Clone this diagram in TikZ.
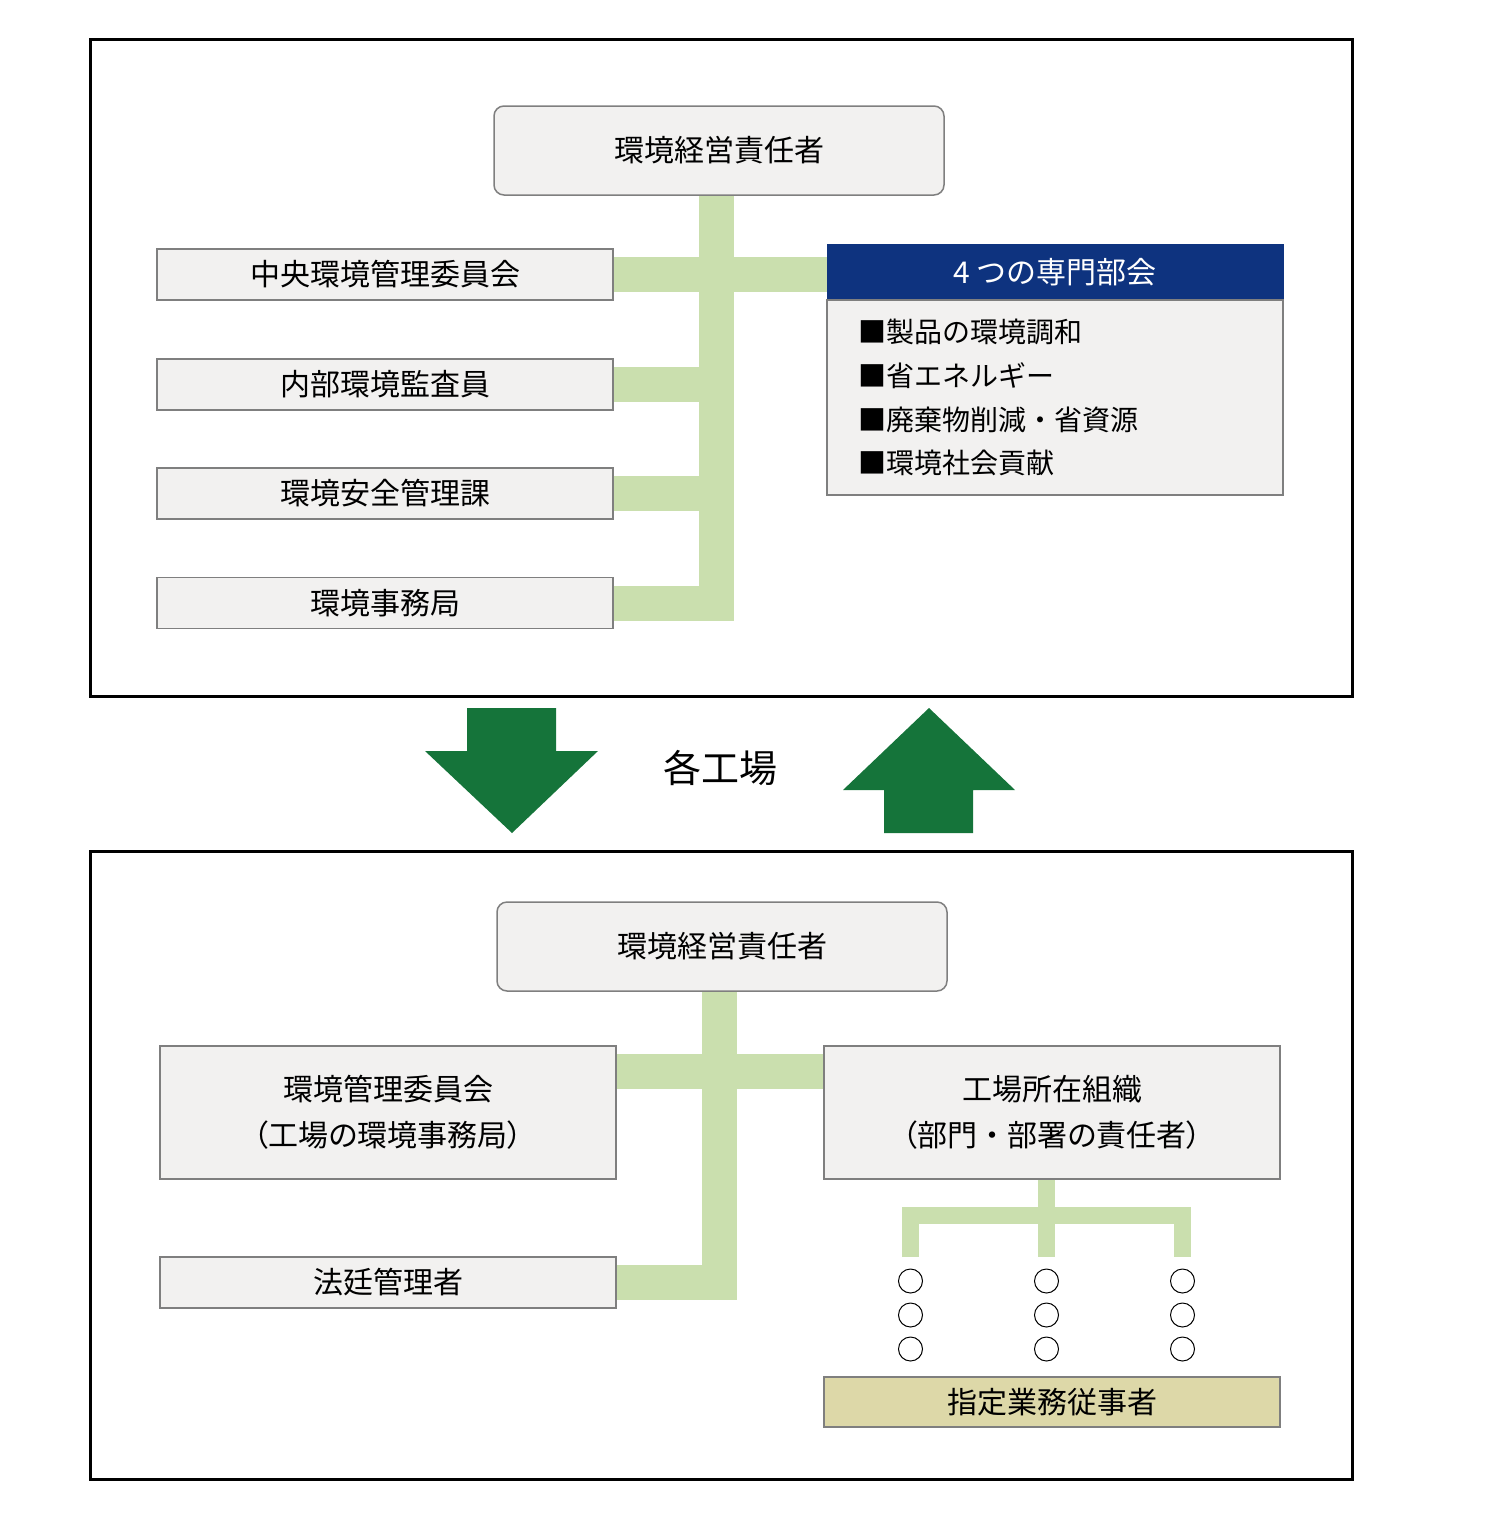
\documentclass[tikz,border=0pt]{standalone}
\usepackage{fontspec}
\usetikzlibrary{backgrounds}
\newfontfamily\jp{Noto Sans CJK JP}
\newfontfamily\jpp[RawFeature=+palt]{Noto Sans CJK JP}
\newlength\upx \setlength\upx{0.5pt}
\definecolor{boxfill}{HTML}{F2F1F0}
\definecolor{boxline}{HTML}{7F7F7F}
\definecolor{connc}{HTML}{CADFAE}
\definecolor{navy}{HTML}{0E337F}
\definecolor{darkgreen}{HTML}{15743A}
\definecolor{tanc}{HTML}{DDD8A8}
\begin{document}
\begin{tikzpicture}[x=0.5pt,y=-0.5pt,
  frame/.style={draw=black, line width=1.5pt},
  plainbox/.style={draw=boxline, line width=0.75pt, fill=boxfill, inner sep=0pt,
    font=\jp\fontsize{15pt}{23pt}\selectfont, align=center},
  headbox/.style={plainbox, rounded corners=5pt, minimum width=450\upx, minimum height=89\upx},
  sidebox/.style={plainbox, minimum width=456\upx, minimum height=51\upx},
  bigbox/.style={plainbox, minimum width=456\upx, minimum height=133\upx,
    font=\jpp\fontsize{15pt}{23pt}\selectfont},
  connline/.style={draw=connc, line width=17.5pt},
  smallconn/.style={draw=connc, line width=8.5pt},
  ring/.style={circle, draw=black, line width=0.5pt, minimum size=24\upx, inner sep=0pt},
  bigarrow/.style={fill=darkgreen}]
\useasboundingbox (0,0) rectangle (1500,1527);

% frames
\draw[frame] (90,39) rectangle (1352,696);
\draw[frame] (90,851) rectangle (1352,1479);

% ---------- top section ----------
\node[headbox] (head) at (719,150.5) {環境経営責任者};
\node[sidebox] (s1) at (385,274.5) {中央環境管理委員会};
\node[sidebox] (s2) at (385,384.5) {内部環境監査員};
\node[sidebox] (s3) at (385,493.5) {環境安全管理課};
\node[sidebox] (s4) at (385,603) {環境事務局};
\node[draw=navy, fill=navy, inner sep=0pt, minimum width=456\upx, minimum height=56\upx,
  text=white, font=\jp\fontsize{15pt}{23pt}\selectfont] (hdr) at (1055,272) {4 つの専門部会};
\node[plainbox, minimum width=456\upx, minimum height=195\upx, text width=394\upx, align=left,
  font=\jp\fontsize{14pt}{21.9pt}\selectfont] (dept) at (1055,397.5)
  {■製品の環境調和\\■省エネルギー\\■廃棄物削減・省資源\\■環境社会貢献};
\coordinate (tkx) at (716.5,0);

\begin{pgfonlayer}{background}
\draw[connline] (tkx |- head.south) -- (tkx |- s4.east) -- (s4.east);
\draw[connline] (s1.east) -- (s1.east -| hdr.west);
\draw[connline] (s2.east) -- (s2.east -| tkx);
\draw[connline] (s3.east) -- (s3.east -| tkx);
\end{pgfonlayer}

% ---------- middle ----------
\fill[bigarrow] (467,708) -- (556,708) -- (556,751) -- (598,751) -- (512,833)
  -- (425,751) -- (467,751) -- cycle;
\fill[bigarrow] (929,708) -- (1015,790) -- (973,790) -- (973,833) -- (884,833)
  -- (884,790) -- (843,790) -- cycle;
\node[font=\jp\fontsize{19pt}{23pt}\selectfont, inner sep=0pt] (mid) at (720,768) {各工場};

% ---------- bottom section ----------
\node[headbox] (head2) at (722,946.5) {環境経営責任者};
\node[bigbox] (lb1) at (388,1112.5) {環境管理委員会\\（工場の環境事務局）};
\node[sidebox] (lb2) at (388,1282.5) {法廷管理者};
\node[bigbox] (rb1) at (1052,1112.5) {工場所在組織\\（{\jp 部門・部署}の責任者）};
\node[sidebox, fill=tanc, minimum height=50\upx] (spec) at (1052,1402) {指定業務従事者};

\foreach \cx/\col in {910.5/1,1046.5/2,1182.5/3}{
  \node[ring] (r\col1) at (\cx,1281) {};
  \node[ring] (r\col2) at (\cx,1315) {};
  \node[ring] (r\col3) at (\cx,1349) {};
}
\coordinate (tkx2) at (719.5,0);
\coordinate (bar) at (0,1071);
\coordinate (sbar) at (0,1215.5);
\coordinate (legy) at (0,1257);

\begin{pgfonlayer}{background}
\draw[connline] (tkx2 |- head2.south) -- (tkx2 |- lb2.east) -- (lb2.east);
\draw[connline] (lb1.east |- bar) -- (rb1.west |- bar);
\draw[smallconn] (r11 |- legy) -- (r11 |- sbar) -- (r31 |- sbar) -- (r31 |- legy);
\draw[smallconn] (r21 |- rb1.south) -- (r21 |- legy);
\end{pgfonlayer}
\end{tikzpicture}
\end{document}
